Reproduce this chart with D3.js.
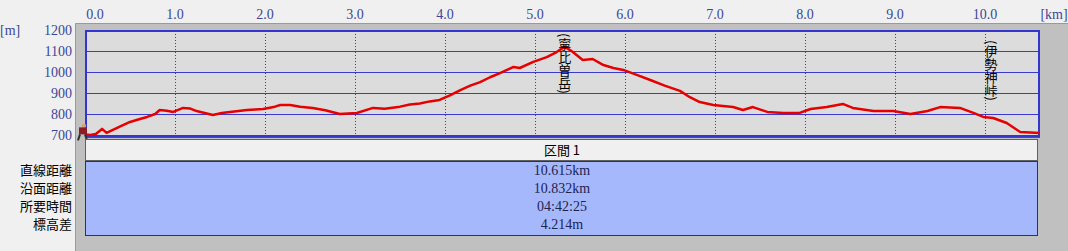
<!DOCTYPE html>
<html>
<head>
<meta charset="utf-8">
<script src="https://cdn.jsdelivr.net/npm/d3@7"></script>
<style>
  body { margin: 0; background: #f0f0f0; }
  svg { display: block; }
</style>
</head>
<body>
<div id="chart"></div>
<script>
// distance along the route (km) and elevation (m)
const distKm = [0.00, 0.06, 0.12, 0.19, 0.24, 0.31, 0.41, 0.50, 0.61, 0.69, 0.78, 0.83, 0.91, 0.98,
  1.09, 1.17, 1.24, 1.33, 1.42, 1.52, 1.61, 1.80, 1.98, 2.11, 2.17, 2.28, 2.39, 2.53, 2.67, 2.83,
  3.02, 3.20, 3.33, 3.50, 3.61, 3.72, 3.83, 3.94, 4.06, 4.17, 4.28, 4.39, 4.50, 4.61, 4.76, 4.83,
  4.98, 5.13, 5.24, 5.33, 5.42, 5.53, 5.64, 5.76, 5.87, 5.98, 6.13, 6.28, 6.44, 6.61, 6.72, 6.83,
  6.98, 7.20, 7.31, 7.42, 7.58, 7.76, 7.94, 8.06, 8.24, 8.42, 8.53, 8.76, 8.98, 9.17, 9.36, 9.50,
  9.72, 9.87, 9.98, 10.09, 10.24, 10.39, 10.50, 10.61];
const elevM = [703, 700, 705, 729, 710, 724, 745, 762, 776, 786, 800, 819, 815, 810,
  829, 826, 814, 805, 795, 805, 810, 819, 824, 835, 843, 843, 835, 829, 818, 800,
  805, 829, 825, 835, 845, 850, 860, 867, 890, 914, 935, 952, 975, 995, 1024, 1019,
  1048, 1071, 1095, 1121, 1095, 1057, 1062, 1033, 1019, 1010, 986, 962, 935, 910, 880, 857,
  843, 833, 819, 833, 810, 805, 805, 824, 833, 848, 829, 814, 814, 800, 814, 833,
  829, 805, 786, 781, 757, 714, 712, 710];

const xTicks = [0, 1, 2, 3, 4, 5, 6, 7, 8, 9, 10];
const yTicks = [700, 800, 900, 1000, 1100, 1200];

const placeNames = ["(寧比曽岳)", "(伊勢神峠)"];
const placeKm = [5.33, 10.0];

const rowLabels = ["直線距離", "沿面距離", "所要時間", "標高差"];
const sectionName = "区間 1";
const rowValues = ["10.615km", "10.832km", "04:42:25", "4.214m"];

const width = 1068, height = 251;
const svg = d3.select("#chart").append("svg")
  .attr("width", width).attr("height", height);

const x = d3.scaleLinear().domain([0, 10.61]).range([85, 1040]);
const y = d3.scaleLinear().domain([700, 1200]).range([135, 30]);

const serif = "'Liberation Serif', 'DejaVu Serif', serif";
const axisColor = "#3b4796";

// grey panel
svg.append("rect").attr("x", 75).attr("y", 23).attr("width", 993).attr("height", 228)
  .attr("fill", "#c0c0c0");
svg.append("path").attr("d", "M75.5,251 V23.5 H1068").attr("fill", "none").attr("stroke", "#9a9a9a");

// plot area
svg.append("rect").attr("x", 85).attr("y", 30).attr("width", 955).attr("height", 107)
  .attr("fill", "#dcdcdc");

// horizontal grid
svg.append("g").selectAll("line").data(yTicks.slice(1, -1)).join("line")
  .attr("x1", 85).attr("x2", 1040)
  .attr("y1", d => Math.round(y(d)) + 0.5).attr("y2", d => Math.round(y(d)) + 0.5)
  .attr("stroke", "#3a3ad0").attr("stroke-width", 1);

// vertical dotted grid
svg.append("g").selectAll("line").data(xTicks.slice(1)).join("line")
  .attr("x1", d => Math.round(x(d)) + 0.5).attr("x2", d => Math.round(x(d)) + 0.5)
  .attr("y1", 31).attr("y2", 136)
  .attr("stroke", "#3a3ac8").attr("stroke-width", 1).attr("stroke-dasharray", "1,2");

// plot border
svg.append("rect").attr("x", 86).attr("y", 31).attr("width", 953).attr("height", 105)
  .attr("fill", "none").attr("stroke", "#3434d0").attr("stroke-width", 2);
svg.append("line").attr("x1", 85).attr("x2", 1040).attr("y1", 137.5).attr("y2", 137.5)
  .attr("stroke", "#505070");

// x axis labels (top)
svg.append("g").selectAll("text").data(xTicks).join("text")
  .attr("x", d => d === 0 ? x(d) + 10 : x(d))
  .attr("y", 19)
  .attr("text-anchor", "middle")
  .attr("font-family", serif).attr("font-size", 14).attr("fill", axisColor)
  .text(d => d.toFixed(1));
svg.append("text").attr("x", 1054).attr("y", 19).attr("text-anchor", "middle")
  .attr("font-family", serif).attr("font-size", 14).attr("fill", axisColor).text("[km]");

// y axis labels
svg.append("g").selectAll("text").data(yTicks).join("text")
  .attr("x", 72).attr("y", d => y(d) + 5)
  .attr("text-anchor", "end")
  .attr("font-family", serif).attr("font-size", 14).attr("fill", axisColor)
  .text(d => d);
svg.append("text").attr("x", 0).attr("y", 35)
  .attr("font-family", serif).attr("font-size", 14).attr("fill", axisColor).text("[m]");

// elevation profile
const line = d3.line().x((d, i) => x(distKm[i])).y(d => y(d));
svg.append("path").datum(elevM)
  .attr("d", line)
  .attr("fill", "none").attr("stroke", "#e60000").attr("stroke-width", 2.5)
  .attr("stroke-linejoin", "round");

// place names, written vertically
svg.append("g").selectAll("text").data(placeNames).join("text")
  .attr("x", (d, i) => x(placeKm[i]) + (i === 0 ? 0 : 6))
  .attr("y", (d, i) => i === 0 ? 33 : 40)
  .attr("font-family", "'Noto Sans CJK JP', sans-serif").attr("font-size", 13)
  .attr("fill", "#000")
  .style("writing-mode", "vertical-rl")
  .text(d => d);

// hiker marker at start
const hk = svg.append("g").attr("transform", `translate(${x(0)},${y(elevM[0])})`);
hk.append("rect").attr("x", -3).attr("y", -10).attr("width", 4).attr("height", 3).attr("fill", "#d8a070");
hk.append("rect").attr("x", -6).attr("y", -7).attr("width", 8).attr("height", 7).attr("fill", "#8a1c28");
hk.append("path").attr("d", "M-5,0 L-7,6 M0,0 L2,6").attr("stroke", "#303030").attr("stroke-width", 2);

// summary table
svg.append("rect").attr("x", 85.5).attr("y", 139.5).attr("width", 952).attr("height", 21)
  .attr("fill", "#f0f0f0").attr("stroke", "#606060");
svg.append("text").attr("x", 562).attr("y", 155).attr("text-anchor", "middle")
  .attr("font-family", "'Noto Sans CJK JP', sans-serif").attr("font-size", 13)
  .attr("fill", "#000").text(sectionName);

svg.append("rect").attr("x", 85.5).attr("y", 161.5).attr("width", 952).attr("height", 74)
  .attr("fill", "#a6b8fc").attr("stroke", "#303060");

const rowY = d3.scaleBand().domain(d3.range(rowLabels.length)).range([161, 233]);

svg.append("g").selectAll("text").data(rowLabels).join("text")
  .attr("x", 72).attr("y", (d, i) => rowY(i) + rowY.bandwidth() / 2 + 5)
  .attr("text-anchor", "end")
  .attr("font-family", "'Noto Sans CJK JP', sans-serif").attr("font-size", 13)
  .attr("fill", "#000").text(d => d);

svg.append("g").selectAll("text").data(rowValues).join("text")
  .attr("x", 562).attr("y", (d, i) => rowY(i) + rowY.bandwidth() / 2 + 5)
  .attr("text-anchor", "middle")
  .attr("font-family", serif).attr("font-size", 14)
  .attr("fill", "#1c2450").text(d => d);
</script>
</body>
</html>
